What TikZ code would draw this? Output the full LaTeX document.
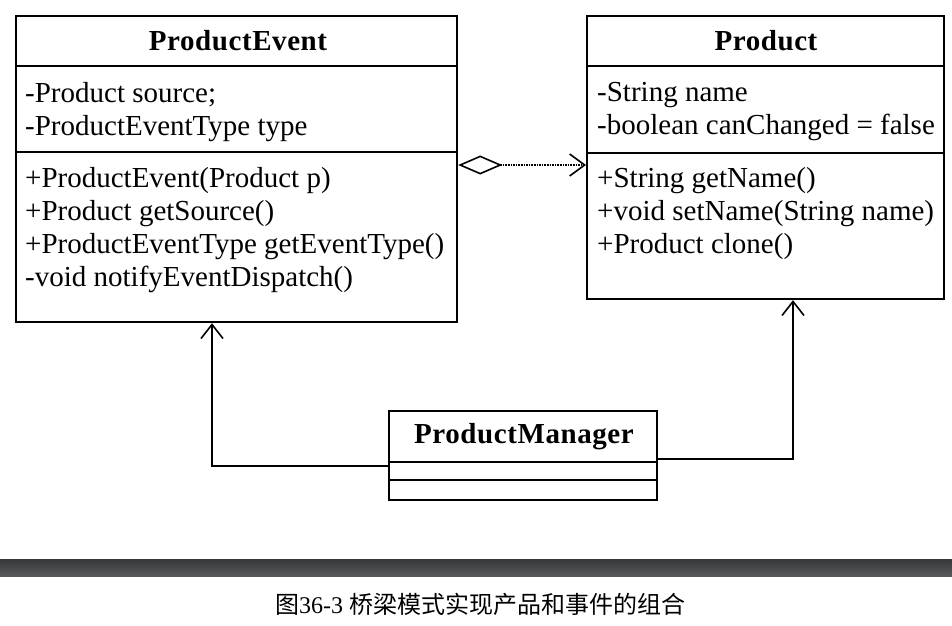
\documentclass[tikz,border=0pt]{standalone}
\usepackage{fontspec}
\setmainfont{Liberation Serif}
\newfontfamily\cjk{Noto Sans CJK SC}
\usetikzlibrary{arrows.meta}
\definecolor{bartop}{HTML}{35383B}
\definecolor{barbot}{HTML}{585B5E}
\tikzset{
  classbox/.style={draw, line width=2.2pt, inner sep=0pt, anchor=north west},
  sepline/.style={line width=2pt},
  member/.style={anchor=north west, inner sep=0pt, align=left, font=\fontsize{29}{33}\selectfont},
  ctitle/.style={inner sep=0pt, font=\fontsize{29}{32}\selectfont\bfseries\addfontfeatures{LetterSpace=2}},
  conn/.style={line width=1.6pt},
  openhead/.style={-{Straight Barb[length=14pt,width=22pt,line width=1.6pt]}},
  aggr/.style={conn, densely dotted, {Diamond[open,length=44pt,width=19pt,line width=1.6pt,sep=0pt]}-{Straight Barb[length=15pt,width=22pt,line width=1.6pt]}},
}
\begin{document}
\begin{tikzpicture}[x=1pt,y=-1pt]
\useasboundingbox (0,0) rectangle (952,625);
% ProductEvent
\node[classbox, minimum width=441pt, minimum height=306pt] (pe) at (15,15) {};
\node[ctitle] (pet) at (238,41) {ProductEvent};
\draw[sepline] (pe.west |- 0,66) -- (pe.east |- 0,66);
\draw[sepline] (pe.west |- 0,152) -- (pe.east |- 0,152);
\node[member] (pea) at (25,82) {-Product source;\\-ProductEventType type};
\node[member] (pem) at (25,167) {+ProductEvent(Product p)\\+Product getSource()\\+ProductEventType getEventType()\\-void notifyEventDispatch()};
% Product
\node[classbox, minimum width=357pt, minimum height=283pt] (pr) at (586,15) {};
\node[ctitle] (prt) at (766,41) {Product};
\draw[sepline] (pr.west |- 0,66) -- (pr.east |- 0,66);
\draw[sepline] (pr.west |- 0,153) -- (pr.east |- 0,153);
\node[member] (pra) at (597,82) {-String name\\-boolean canChanged = false};
\node[member] (prm) at (597,167) {+String getName()\\+void setName(String name)\\+Product clone()};
% ProductManager
\node[classbox, minimum width=268pt, minimum height=89pt] (pm) at (388,410) {};
\node[ctitle] (pmt) at (524,437) {ProductManager};
\draw[sepline] (pm.west |- 0,462) -- (pm.east |- 0,462);
\draw[sepline] (pm.west |- 0,480) -- (pm.east |- 0,480);
% connectors
\draw[aggr] (pe.east |- 0,165) -- (pr.west |- 0,165);
\coordinate (lc) at (212,466);
\coordinate (rc) at (793,459);
\draw[conn, openhead] (pm.west |- lc) -- (lc) -- (lc |- pe.south);
\draw[conn, openhead] (pm.east |- rc) -- (rc) -- (rc |- pr.south);
% bar and caption
\shade[top color=bartop, bottom color=barbot] (0,559) rectangle (952,576);
\node[inner sep=0pt, font=\fontsize{24}{28}\selectfont] (cap) at (480,604) {{\cjk 图}36-3 {\cjk 桥梁模式实现产品和事件的组合}};
\end{tikzpicture}
\end{document}
